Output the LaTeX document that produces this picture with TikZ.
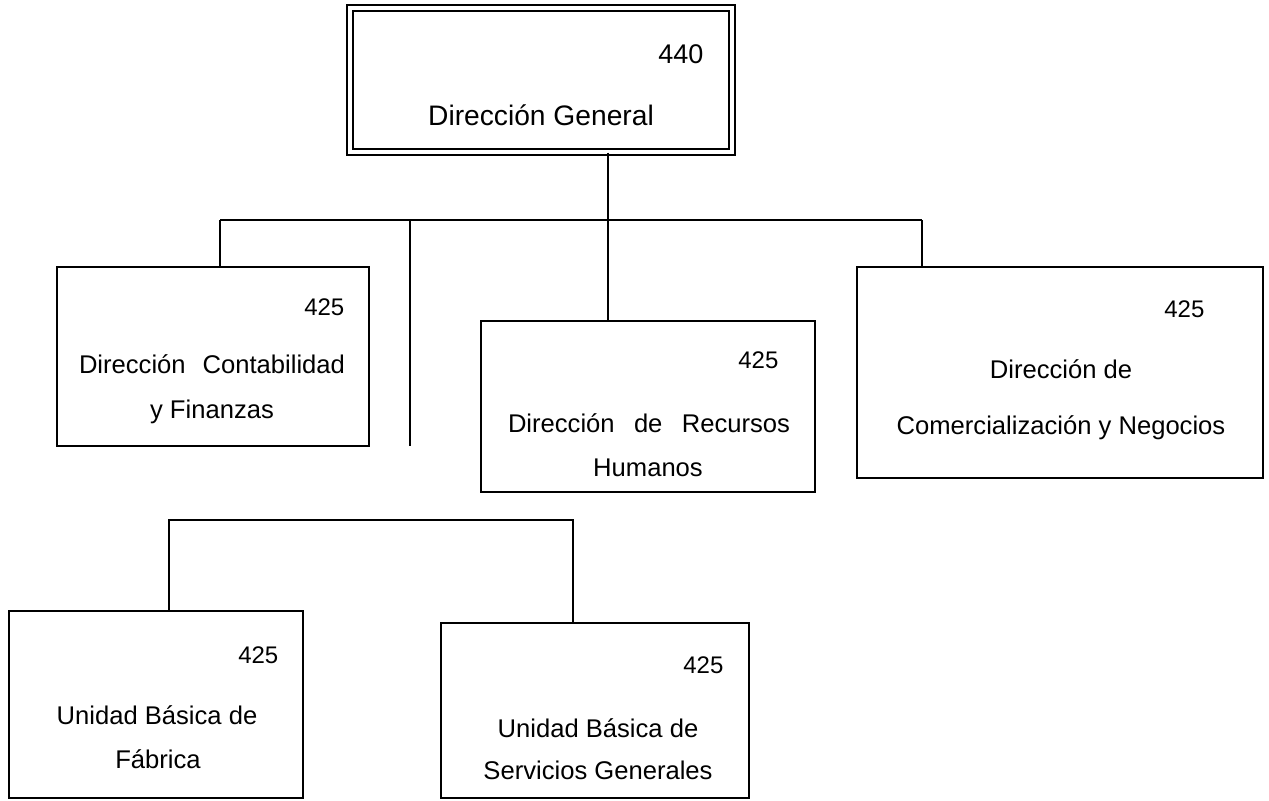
\documentclass[tikz,border=0pt]{standalone}
\usepackage{fontspec}
\setmainfont{Liberation Sans}
\usepackage{tikz}

\tikzset{
    caja/.style={draw, inner sep=0pt},
    num/.style={anchor=base east, inner sep=0pt, font=\fontsize{12}{14}\selectfont},
    txt/.style={anchor=base, inner sep=0pt, font=\fontsize{12.8}{15}\selectfont}
}

\begin{document}
\begin{tikzpicture}[x=0.5pt, y=-0.5pt, line width=0.65pt]
        \useasboundingbox (0, 0) rectangle (1269, 800);
        % cajas
        \node[caja, double, double distance=2.2pt, line width=0.7pt, minimum width=191pt, minimum height=72pt] (dg) at (541, 80) {};
        \node[caja, minimum width=156pt, minimum height=89.5pt] (cf) at (213, 356.5) {};
        \node[caja, minimum width=167pt, minimum height=85.5pt] (rh) at (648, 406.5) {};
        \node[caja, minimum width=203pt, minimum height=105.5pt] (cn) at (1060, 372.5) {};
        \node[caja, minimum width=147pt, minimum height=93.5pt] (ubf) at (156, 704.5) {};
        \node[caja, minimum width=154pt, minimum height=87.5pt] (ubs) at (595, 710.5) {};
        % textos
        \node[num, font=\fontsize{13.5}{16}\selectfont] (dgnum) at (704, 63) {440};
        \node[txt, font=\fontsize{14.1}{17}\selectfont] (dgtxt) at (541, 125) {Dirección General};
        \node[num] (cfnum) at (345, 315) {425};
        \node[txt] (cfa) at (212, 373) {\makebox[133pt][s]{Dirección Contabilidad}};
        \node[txt] (cfb) at (212, 418) {y Finanzas};
        \node[num] (rhnum) at (779, 368) {425};
        \node[txt] (rha) at (649, 432) {\makebox[141pt][s]{Dirección de Recursos}};
        \node[txt] (rhb) at (648, 476) {Humanos};
        \node[num] (cnnum) at (1205, 317) {425};
        \node[txt] (cna) at (1061, 378) {Dirección de};
        \node[txt] (cnb) at (1061, 434) {Comercialización y Negocios};
        \node[num] (ubfnum) at (279, 663) {425};
        \node[txt] (ubfa) at (157, 724) {Unidad Básica de};
        \node[txt] (ubfb) at (158, 768) {Fábrica};
        \node[num] (ubsnum) at (724, 673) {425};
        \node[txt] (ubsa) at (598, 737) {Unidad Básica de};
        \node[txt] (ubsb) at (598, 779) {Servicios Generales};
        % conectores
        \coordinate (j) at (608, 220);
        \coordinate (jl) at (220, 220);
        \coordinate (jf) at (410, 220);
        \coordinate (jr) at (922, 220);
        \coordinate (f) at (410, 446);
        \draw (dg.south -| j) -- (j) -- (rh.north -| j);
        \draw (jl) -- (jr);
        \draw (jl) -- (cf.north -| jl);
        \draw (jr) -- (cn.north -| jr);
        \draw (jf) -- (f);
        \coordinate (ul) at (169, 520);
        \coordinate (ur) at (573, 520);
        \draw (ubf.north -| ul) -- (ul) -- (ur) -- (ubs.north -| ur);
    \end{tikzpicture}
\end{document}
